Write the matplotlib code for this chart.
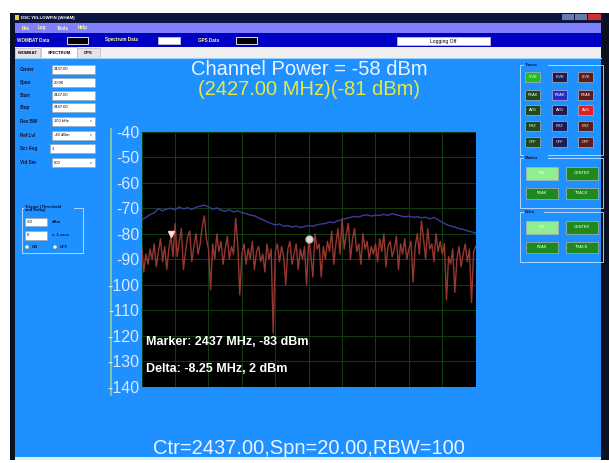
import numpy as np
import matplotlib
matplotlib.use("Agg")
import matplotlib.pyplot as plt
from matplotlib.patches import Rectangle, Circle

plt.rcParams['font.family'] = ['Liberation Sans', 'DejaVu Sans']
plt.rcParams['axes.unicode_minus'] = False

# --- данные спектра (МГц / дБм) ---
f_start, f_stop = 2427.0, 2447.0

# живая трасса (красная), шаг 0.125 МГц
live_dbm = [
    -85, -95, -88, -92, -86, -90, -84, -93, -87, -82, -91, -85, -94, -86, -81, -89,
    -76, -89, -83, -78, -94, -87, -81, -79, -91, -85, -80, -88, -84, -77, -73, -82,
    -86, -102, -84, -90, -80, -87, -83, -92, -86, -81, -90, -85, -88, -74, -84, -104,
    -88, -84, -92, -86, -90, -83, -94, -87, -85, -91, -88, -95, -84, -90, -86, -119,
    -87, -84, -91, -85, -89, -100, -86, -83, -92, -88, -84, -94, -86, -90, -85, -100,
    -82, -88, -97, -80, -86, -84, -97, -85, -90, -83, -87, -79, -92, -84, -78, -88,
    -74, -86, -80, -76, -90, -82, -78, -87, -84, -92, -80, -86, -83, -90, -85, -88,
    -84, -91, -82, -87, -80, -93, -85, -83, -89, -86, -81, -94, -84, -88, -82, -90,
    -86, -83, -99, -85, -80, -88, -75, -82, -90, -78, -86, -84, -91, -80, -87, -83,
    -88, -84, -106, -89, -92, -86, -103, -90, -85, -93, -88, -84, -91, -86, -107, -87, -85,
]

# пиковая трасса (синяя), шаг 0.25 МГц
peak_dbm = [
    -74.5, -73.6, -72.5, -71.8, -70.2, -71.0, -70.4, -70.0, -70.6, -69.5,
    -70.3, -69.8, -70.5, -69.6, -69.2, -68.8, -69.5, -70.4, -69.9, -70.8,
    -71.2, -70.6, -71.5, -71.0, -71.8, -72.1, -72.7, -73.0, -73.8, -74.5,
    -75.3, -76.0, -76.6, -76.2, -77.1, -76.8, -77.4, -77.0, -77.6, -77.2,
    -76.8, -77.1, -76.5, -76.2, -76.0, -75.4, -75.7, -74.9, -74.5, -74.0,
    -73.6, -73.2, -73.5, -72.8, -72.6, -73.1, -72.7, -72.9, -72.4, -72.8,
    -72.1, -72.6, -73.0, -73.4, -73.1, -73.6, -73.3, -73.8, -73.5, -74.2,
    -73.6, -74.6, -75.5, -76.4, -77.0, -77.4, -78.0, -78.3, -78.9, -79.3,
    -79.8,
]

marker_f, marker_db = 2437.0, -82
delta_f, delta_db = 2428.75, -80

y_ticks = [-40, -50, -60, -70, -80, -90, -100, -110, -120, -130, -140]

W, H = 609, 463
fig = plt.figure(figsize=(W / 100, H / 100), dpi=100)
fig.patch.set_facecolor('white')

# фон "окна" рисуем в пикселях
bg = fig.add_axes([0, 0, 1, 1])
bg.set_xlim(0, W)
bg.set_ylim(H, 0)
bg.axis('off')


def box(x0, y0, x1, y1, fc, ec='none', lw=0.6, z=1):
    bg.add_patch(Rectangle((x0, y0), x1 - x0, y1 - y0, fc=fc, ec=ec, lw=lw, zorder=z))


def txt(x, y, s, size=3.5, color='black', ha='left', **kw):
    bg.text(x, y, s, fontsize=size, color=color, ha=ha, va='center', zorder=5, **kw)


BLUE = '#1e90ff'

# рамка окна
box(10, 12.5, 609, 460, '#0b1020')
box(15, 58, 601, 457, BLUE)
box(15, 457, 601, 459.5, '#d8f0f4')

# заголовок и меню
box(13, 12.5, 603, 23, '#0d1640')
box(15, 15, 19, 20, '#e8d040')
txt(21, 17.7, 'DSC YELLOWFIN (WHAM)', 3.2, 'white', fontweight='bold')
box(562, 14, 574, 20, '#6a7ab0')
box(575, 14, 587, 20, '#6a7ab0')
box(588, 14, 601, 20, '#d03030')
box(15, 23, 601, 33, '#8080ff')
for x, s in [(22, 'File'), (38, 'Log'), (57, 'Tools'), (78, 'Help')]:
    txt(x, 28, s, 3.3, '#ffff90', fontweight='bold')
box(15, 33, 601, 46.7, '#0000c4')
txt(17, 40, 'WOMBAT Data', 3.3, '#ffff90', fontweight='bold')
box(67, 37, 88, 44, 'black', 'white')
txt(105, 40, 'Spectrum Data', 3.3, '#ffff90', fontweight='bold')
box(158, 37, 180, 44, 'white', '#c0c0c0')
txt(198, 40, 'GPS Data', 3.3, '#ffff90', fontweight='bold')
box(236, 37, 257, 44, 'black', 'white')
box(397, 36.7, 490, 45, 'white', '#c0c0c0')
txt(443, 41, 'Logging Off', 3.6, 'black', ha='center')
box(15, 46.7, 601, 58, '#f0f0f0')
box(15, 48, 40, 58, '#e4e4e4', '#b0b0b0', 0.4)
box(41, 47, 77, 58, 'white', '#b0b0b0', 0.4)
box(77, 48, 100, 58, '#e4e4e4', '#b0b0b0', 0.4)
txt(27.5, 53, 'WOMBAT', 3, ha='center', fontweight='bold')
txt(59, 52.5, 'SPECTRUM', 3, ha='center', fontweight='bold')
txt(88.5, 53, 'GPS', 3, ha='center', fontweight='bold')
bg.plot([15, 601], [58, 58], color='#a0d0ff', lw=0.8, zorder=2)

# левая панель параметров
fields = [('Center', '2437.00', 65), ('Span', '20.00', 78), ('Start', '2427.00', 91),
          ('Stop', '2447.00', 103), ('Res BW', '100 kHz', 117), ('Ref Lvl', '-40 dBm', 131),
          ('Scr Avg', '1', 144), ('Vid Sm', '600', 158)]
for lab, val, y0 in fields:
    txt(20, y0 + 4.5, lab, 3.3, '#101030', fontweight='bold')
    x0 = 50 if lab == 'Scr Avg' else 52
    box(x0, y0, 95, y0 + 9, 'white', '#a0a0a0', 0.4, z=2)
    txt(x0 + 2, y0 + 4.5, val, 3.0)
    if lab in ('Res BW', 'Ref Lvl', 'Vid Sm'):
        txt(91, y0 + 4.5, 'v', 2.6, '#404040', ha='center')

# группа "Trigger"
box(22, 208, 83, 253, 'none', '#c8e0ff', 0.6)
box(24, 203, 74, 214, BLUE, z=2)
txt(25, 208.5, 'Trigger (Threshold\nand Delay)', 3.0, '#101030', linespacing=0.9, fontweight='bold')
box(25, 218, 47, 226, 'white', '#a0a0a0', 0.4, z=2)
txt(27, 222, '-60', 3.0)
txt(52, 222, 'dBm', 3.0, '#101030', fontweight='bold')
box(25, 231, 47, 240, 'white', '#a0a0a0', 0.4, z=2)
txt(27, 235.5, '0', 3.0)
txt(52, 235.5, 'x .1 secs', 3.0, '#101030', fontweight='bold')
for cx, s in [(27, 'ON'), (55, 'OFF')]:
    bg.add_patch(Circle((cx, 247), 2, fc='white', ec='#808080', lw=0.4, zorder=3))
    txt(cx + 5, 247, s, 3.0, '#101030', fontweight='bold')

# правая панель кнопок
def group(y0, y1, title):
    box(520, y0, 603, y1, 'none', '#c8e0ff', 0.6, z=2)
    box(524, y0 - 3, 524 + 4 * len(title), y0 + 3, BLUE, z=3)
    txt(525, y0, title, 3.0, '#101030', fontweight='bold')


def button(x0, y0, x1, y1, fc, s, tc='white'):
    box(x0, y0, x1, y1, fc, '#b0b0b0', 0.5, z=3)
    txt((x0 + x1) / 2, (y0 + y1) / 2, s, 2.8, tc, ha='center')


group(65, 155, 'Traces')
cols = [(525, 540, '#1e4a1e', '#22bb22'), (552, 567, '#1c1c55', '#2a2ad0'), (578, 593, '#5a1c1c', '#e02020')]
rows = [(72, 82, 'LIVE'), (90, 100, 'PEAK'), (105, 115, 'AVG'), (121, 131, 'FRZ'), (137, 147, 'OFF')]
for ci, (x0, x1, dark, lit) in enumerate(cols):
    for ri, (y0, y1, s) in enumerate(rows):
        fc = lit if ri == ci else dark
        button(x0, y0, x1, y1, fc, s)

for y0, title in [(158, 'Marker'), (212, 'Delta')]:
    group(y0, y0 + 50, title)
    button(526, y0 + 9, 558, y0 + 22, '#90ee90', 'ON')
    button(566, y0 + 9, 598, y0 + 22, '#1e8a1e', 'CENTER')
    button(526, y0 + 30, 558, y0 + 41, '#1e8a1e', 'PEAK')
    button(566, y0 + 30, 598, y0 + 41, '#1e8a1e', 'TRACK')

# зелёная линия оси слева
bg.plot([111, 111], [129, 395], color='#90d090', lw=1.2, zorder=2)

# тексты над и под графиком
txt(309, 69.5, 'Channel Power = -58 dBm', 14.5, '#eef4ff', ha='center')
txt(309, 89.5, '(2427.00 MHz)(-81 dBm)', 14.5, '#e8e840', ha='center')
txt(309, 449, 'Ctr=2437.00,Spn=20.00,RBW=100', 14.5, '#eef4ff', ha='center')

# --- сам спектр ---
ax = fig.add_axes([141.7 / W, 1 - 386.7 / H, 334 / W, 255 / H])
ax.set_facecolor('black')
f_live = np.linspace(f_start, f_stop, len(live_dbm))
f_peak = np.linspace(f_start, f_stop, len(peak_dbm))
ax.plot(f_live, live_dbm, color='#963830', lw=1.0)
ax.plot(f_peak, peak_dbm, color='#3c3c9c', lw=1.0)
ax.plot([delta_f], [delta_db], marker='v', ms=5, color='#fff0f0', mec='#ffd0d0')
ax.plot([marker_f], [marker_db], marker='o', ms=5, color='#e0e0e0', mec='#c0c0c0')

ax.set_xlim(f_start, f_stop)
ax.set_ylim(-140, -40)
ax.set_xticks(np.linspace(f_start, f_stop, 11))
ax.set_yticks(y_ticks)
ax.grid(True, color='#133d13', lw=0.7)
ax.tick_params(axis='x', length=0, labelbottom=False)
ax.tick_params(axis='y', length=0, pad=1.5, labelsize=11.5, labelcolor='#dde8ff')
for sp in ax.spines.values():
    sp.set_visible(False)

ax.text(2427.25, -122.5, 'Marker: 2437 MHz, -83 dBm', color='white', fontsize=9, fontweight='bold', va='center')
ax.text(2427.25, -133, 'Delta: -8.25 MHz, 2 dBm', color='white', fontsize=9, fontweight='bold', va='center')

fig.savefig('out.png', dpi=100)
